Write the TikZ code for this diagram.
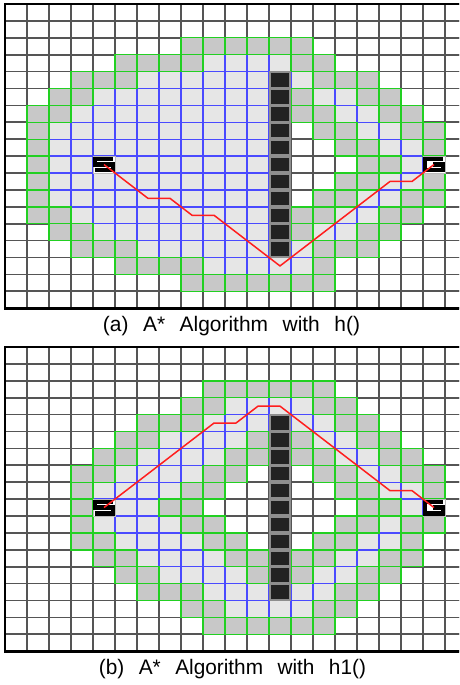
\documentclass[tikz,border=0pt]{standalone}
\usepackage{fontspec}
\setmainfont{Liberation Sans}
\newfontfamily\capfont[WordSpace=2.5]{Liberation Sans}
\usepackage{graphicx}
\definecolor{cellgray}{HTML}{C8C8C8}
\definecolor{celllight}{HTML}{E6E6E6}
\definecolor{edgegreen}{HTML}{22D022}
\definecolor{edgeblue}{HTML}{4A4AFF}
\definecolor{gridline}{HTML}{555555}
\definecolor{wallfill}{HTML}{222222}
\definecolor{walledge}{HTML}{8E8E8E}
\definecolor{routered}{HTML}{FF1E1E}
\tikzset{
  wcell/.style={fill=white,draw=gridline,line width=1.7pt},
  lcell/.style={fill=celllight,draw=edgeblue,line width=1.4pt},
  gcell/.style={fill=cellgray,draw=edgegreen,line width=1.4pt},
  bcell/.style={fill=wallfill,draw=walledge,line width=2.2pt},
  glyphcell/.style={fill=white,draw=walledge!60,line width=1pt},
  glyph/.style={draw=black,line width=4.4pt,line join=miter,line cap=butt},
  route/.style={draw=routered,line width=1.5pt,line join=round},
  frame/.style={draw=black,line width=2.6pt},
  caption/.style={inner sep=0pt,anchor=base,font=\capfont\fontsize{21}{24}\selectfont}
}
\begin{document}
\begin{tikzpicture}[x=1pt,y=-1pt]
\useasboundingbox (0,0) rectangle (459,685);
\fill[white] (0,0) rectangle (459,685);
\begin{scope}
\clip (0,0) rectangle (459,685);
% ---------------- panel (a) ----------------
\begin{scope}[shift={(5,4)},x=22pt,y=-16.9pt]
  \foreach \r in {0,...,17} \foreach \c in {0,...,20} \draw[wcell] (\c,\r) rectangle ++(1,1);
  \foreach \r/\a/\b in {3/9/12, 4/6/11, 4/13/13, 5/4/11, 5/14/15, 6/3/11, 6/15/16,
      7/2/11, 7/16/17, 8/2/11, 8/17/18, 9/2/3, 9/5/11, 9/18/18, 10/2/11, 10/17/18,
      11/2/11, 11/16/17, 12/3/11, 12/15/16, 13/4/11, 13/14/15, 14/6/11, 14/13/13, 15/9/13}
    \foreach \c in {\a,...,\b} \draw[lcell] (\c,\r) rectangle ++(1,1);
  \foreach \r/\a/\b in {2/8/13, 3/5/8, 3/13/14, 4/3/5, 4/14/16, 5/2/3, 5/13/13, 5/16/17,
      6/1/2, 6/13/14, 6/17/18, 7/1/1, 7/14/15, 7/18/19, 8/1/1, 8/15/16, 8/19/19,
      9/1/1, 9/16/17, 10/1/1, 10/15/16, 10/19/19, 11/1/1, 11/14/15, 11/18/19,
      12/1/2, 12/13/14, 12/17/18, 13/2/3, 13/13/13, 13/16/17, 14/3/5, 14/14/16,
      15/5/8, 15/14/14, 16/8/14}
    \foreach \c in {\a,...,\b} \draw[gcell] (\c,\r) rectangle ++(1,1);
  \foreach \r in {4,...,14} \draw[bcell] (12.03,\r+0.04) rectangle ++(0.94,0.92);
  \draw[glyphcell] (4,9) rectangle ++(1,1);
  \draw[glyph] (4.9,9.16) -- (4.1,9.16) -- (4.1,9.5) -- (4.9,9.5) -- (4.9,9.84) -- (4.1,9.84);
  \draw[glyphcell] (19,9) rectangle ++(1,1);
  \draw[glyph] (19.9,9.16) -- (19.1,9.16) -- (19.1,9.84) -- (19.9,9.84) -- (19.9,9.5) -- (19.45,9.5);
  \coordinate (sa) at (4.5,9.5);
  \coordinate (ga) at (19.5,9.5);
  \draw[route] (sa) -- (6.5,11.5) -- (7.5,11.5) -- (8.5,12.5) -- (9.5,12.5) -- (12.5,15.5)
     -- (17.5,10.5) -- (18.5,10.5) -- (ga);
  \draw[frame] (21,0) -- (0,0) -- (0,18) -- (21,18);
\end{scope}
% ---------------- panel (b) ----------------
\begin{scope}[shift={(5,347)},x=22pt,y=-16.9pt]
  \foreach \r in {0,...,17} \foreach \c in {0,...,20} \draw[wcell] (\c,\r) rectangle ++(1,1);
  \foreach \r/\a/\b in {3/10/13, 4/9/11, 4/13/14, 5/7/10, 5/14/15, 6/6/9, 6/15/16,
      7/5/8, 7/16/17, 8/4/7, 8/17/18, 9/5/6, 9/18/18, 10/4/7, 10/17/17,
      11/5/8, 11/16/17, 12/6/9, 12/15/16, 13/7/10, 13/14/15, 14/9/11, 14/13/14, 15/10/13}
    \foreach \c in {\a,...,\b} \draw[lcell] (\c,\r) rectangle ++(1,1);
  \foreach \r/\a/\b in {2/9/14, 3/8/9, 3/14/15, 4/6/8, 4/15/16, 5/5/6, 5/11/11, 5/13/13, 5/16/17,
      6/4/5, 6/10/11, 6/13/14, 6/17/18, 7/3/4, 7/9/10, 7/14/15, 7/18/19,
      8/3/3, 8/8/9, 8/15/16, 8/19/19, 9/3/3, 9/7/8, 9/16/17,
      10/3/3, 10/8/9, 10/15/16, 10/18/19, 11/3/4, 11/9/10, 11/14/15, 11/18/18,
      12/4/5, 12/10/11, 12/13/14, 12/17/18, 13/5/6, 13/11/11, 13/13/13, 13/16/17,
      14/6/8, 14/15/16, 15/8/9, 15/14/15, 16/9/14}
    \foreach \c in {\a,...,\b} \draw[gcell] (\c,\r) rectangle ++(1,1);
  \foreach \r in {4,...,14} \draw[bcell] (12.03,\r+0.04) rectangle ++(0.94,0.92);
  \draw[glyphcell] (4,9) rectangle ++(1,1);
  \draw[glyph] (4.9,9.16) -- (4.1,9.16) -- (4.1,9.5) -- (4.9,9.5) -- (4.9,9.84) -- (4.1,9.84);
  \draw[glyphcell] (19,9) rectangle ++(1,1);
  \draw[glyph] (19.9,9.16) -- (19.1,9.16) -- (19.1,9.84) -- (19.9,9.84) -- (19.9,9.5) -- (19.45,9.5);
  \coordinate (sb) at (4.5,9.5);
  \coordinate (gb) at (19.5,9.5);
  \draw[route] (sb) -- (9.5,4.5) -- (10.5,4.5) -- (11.5,3.5) -- (12.5,3.5) -- (17.5,8.5)
     -- (18.5,8.5) -- (gb);
  \draw[frame] (21,0) -- (0,0) -- (0,18) -- (21,18);
\end{scope}
\end{scope}
% ---------------- captions ----------------
\node[caption] (capa) at (231.5,331) {\resizebox{257pt}{\height}{(a) A* Algorithm with h()}};
\node[caption] (capb) at (232.5,674) {\resizebox{267pt}{\height}{(b) A* Algorithm with h1()}};
\end{tikzpicture}
\end{document}
